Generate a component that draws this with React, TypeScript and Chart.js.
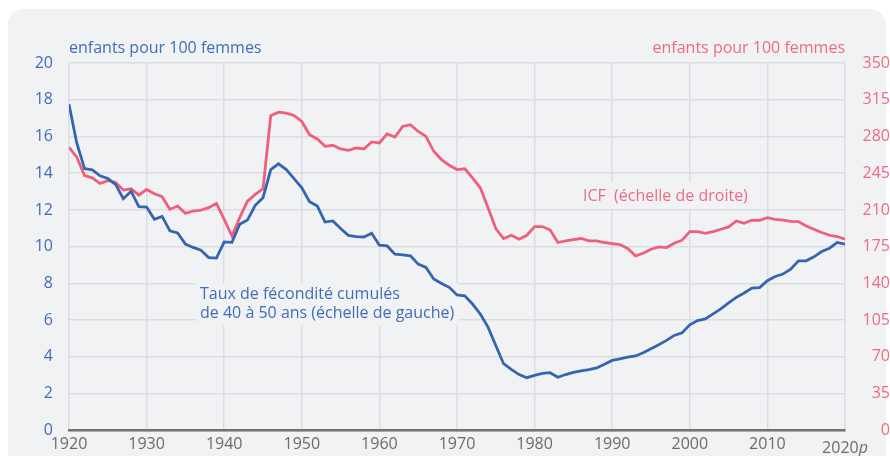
import React, { useEffect, useRef } from "react";
import { Chart, registerables } from "chart.js";

Chart.register(...registerables);

const startYear = 1920;
const xTicks = [1920, 1930, 1940, 1950, 1960, 1970, 1980, 1990, 2000, 2010, 2020];

// Taux de fécondité cumulés de 40 à 50 ans (left scale)
const tauxCumules = [
  17.75, 15.65, 14.25, 14.18, 13.86, 13.71, 13.39, 12.61, 13.02, 12.18,
  12.16, 11.49, 11.65, 10.86, 10.75, 10.14, 9.96, 9.81, 9.41, 9.38,
  10.26, 10.24, 11.22, 11.45, 12.25, 12.67, 14.2, 14.51, 14.2, 13.71,
  13.2, 12.45, 12.21, 11.34, 11.4, 10.99, 10.62, 10.55, 10.53, 10.73,
  10.08, 10.04, 9.59, 9.56, 9.5, 9.05, 8.87, 8.24, 8.0, 7.79,
  7.37, 7.33, 6.88, 6.34, 5.62, 4.62, 3.63, 3.32, 3.04, 2.87,
  3.0, 3.1, 3.14, 2.89, 3.04, 3.16, 3.24, 3.31, 3.4, 3.6,
  3.81, 3.9, 3.99, 4.05, 4.23, 4.44, 4.66, 4.9, 5.17, 5.31,
  5.75, 5.98, 6.07, 6.34, 6.61, 6.94, 7.24, 7.48, 7.75, 7.77,
  8.15, 8.38, 8.51, 8.78, 9.23, 9.23, 9.45, 9.74, 9.92, 10.23,
  10.14,
];

// ICF (right scale)
const icf = [
  269.7, 260.2, 242.8, 240.6, 235.2, 238, 236.2, 228.9, 230.2, 224.1,
  229.5, 225.5, 222.6, 210.6, 213.7, 206.8, 209, 209.9, 212.2, 216.3,
  201.1, 185.2, 202.7, 218.4, 224.8, 230.2, 299.7, 303.2, 302.3, 300,
  294.3, 281.7, 277.6, 270.6, 271.6, 268.1, 266.8, 269.1, 268.1, 274.8,
  273.8, 282.4, 279.5, 289.6, 291.2, 284.8, 280.1, 265.9, 258, 252.6,
  248.5, 249.2, 240.6, 231.1, 212.2, 192.3, 182.8, 185.9, 182.1, 185.9,
  194.2, 194.2, 190.9, 179, 180.5, 181.8, 182.8, 180.5, 180.5, 179,
  178, 177.1, 173.3, 166.3, 168.8, 172.6, 174.8, 174.2, 178.3, 181.2,
  189.4, 189.4, 187.8, 189.4, 191.6, 193.8, 199.5, 197.3, 200.4, 200.1,
  202.7, 201.1, 200.4, 199.2, 198.9, 194.7, 191.6, 188.5, 185.9, 184.7,
  182.1,
];

const leftTitle = "enfants pour 100 femmes";
const rightTitle = "enfants pour 100 femmes";
const icfLabel = "ICF  (échelle de droite)";
const tauxLabel = ["Taux de fécondité cumulés", "de 40 à 50 ans (échelle de gauche)"];

const BLUE_LINE = "#3465b1";
const BLUE_TEXT = "#3f6db8";
const PINK_LINE = "#ef5f7b";
const PINK_TEXT = "#ef6b84";
const CARD = "#f1f2f4";
const GRID = "#dcdde1";
const FONT = "'Open Sans', sans-serif";

const labelsPlugin = {
  id: "labelsPlugin",
  beforeDatasetsDraw(chart: any) {
    const ctx = chart.ctx;
    ctx.save();
    ctx.font = `16px ${FONT}`;
    const wT = Math.max(ctx.measureText(tauxLabel[0]).width, ctx.measureText(tauxLabel[1]).width);
    const wI = ctx.measureText(icfLabel).width;
    ctx.fillStyle = CARD;
    ctx.fillRect(196, 283, wT + 8, 43);
    ctx.fillRect(579, 182, wI + 8, 27);
    ctx.textBaseline = "alphabetic";
    ctx.textAlign = "left";
    ctx.fillStyle = BLUE_TEXT;
    ctx.fillText(tauxLabel[0], 200, 299);
    ctx.fillText(tauxLabel[1], 200, 318);
    ctx.fillStyle = PINK_TEXT;
    ctx.fillText(icfLabel, 583, 200.5);
    ctx.restore();
  },
  afterDraw(chart: any) {
    const ctx = chart.ctx;
    ctx.save();
    ctx.font = `16px ${FONT}`;
    ctx.textBaseline = "alphabetic";
    ctx.textAlign = "left";
    ctx.fillStyle = BLUE_TEXT;
    ctx.fillText(leftTitle, chart.chartArea.left, 52.5);
    ctx.textAlign = "right";
    ctx.fillStyle = PINK_TEXT;
    ctx.fillText(rightTitle, chart.chartArea.right, 52.5);
    // last x tick with italic p
    const xs = chart.scales.x;
    const px = xs.getPixelForValue(2020);
    ctx.font = `16px ${FONT}`;
    const w1 = ctx.measureText("2020").width;
    ctx.font = `italic 16px ${FONT}`;
    const w2 = ctx.measureText("p").width;
    const x0 = px - (w1 + w2) / 2;
    ctx.textAlign = "left";
    ctx.textBaseline = "middle";
    ctx.fillStyle = "#6b6b6b";
    ctx.font = `16px ${FONT}`;
    ctx.fillText("2020", x0, 448.5);
    ctx.font = `italic 16px ${FONT}`;
    ctx.fillText("p", x0 + w1, 448.5);
    ctx.restore();
  },
};

export default function App() {
  const ref = useRef<HTMLCanvasElement>(null);
  useEffect(() => {
    const years = tauxCumules.map((_, i) => startYear + i);
    const chart = new Chart(ref.current as HTMLCanvasElement, {
      type: "line",
      data: {
        datasets: [
          {
            label: "Taux de fécondité cumulés",
            data: years.map((y, i) => ({ x: y, y: tauxCumules[i] })),
            borderColor: BLUE_LINE,
            borderWidth: 2.8,
            pointRadius: 0,
            tension: 0,
            yAxisID: "y",
          },
          {
            label: "ICF",
            data: years.map((y, i) => ({ x: y, y: icf[i] })),
            borderColor: PINK_LINE,
            borderWidth: 2.8,
            pointRadius: 0,
            tension: 0,
            yAxisID: "y1",
          },
        ],
      },
      options: {
        animation: false,
        responsive: false,
        devicePixelRatio: 1,
        layout: { padding: { top: 63, left: 0, right: 0, bottom: 0 } },
        plugins: { legend: { display: false }, tooltip: { enabled: false } },
        scales: {
          x: {
            type: "linear",
            min: 1920,
            max: 2020,
            afterBuildTicks: (s: any) => {
              s.ticks = xTicks.map((v) => ({ value: v }));
            },
            afterFit: (s: any) => {
              s.height = 24;
            },
            ticks: {
              stepSize: 10,
              color: "#6b6b6b",
              font: { family: FONT, size: 16 },
              padding: 4,
              maxRotation: 0,
              callback: (v: any) => (v === 2020 ? "" : String(v)),
            },
            grid: { color: GRID, lineWidth: 1.5, drawTicks: false },
            border: { color: "#737373", width: 2.5 },
          },
          y: {
            position: "left",
            min: 0,
            max: 20,
            afterFit: (s: any) => {
              s.width = 69;
            },
            ticks: {
              stepSize: 2,
              color: BLUE_TEXT,
              font: { family: FONT, size: 16 },
              padding: 16,
            },
            grid: { color: GRID, lineWidth: 1.5, drawTicks: false },
            border: { display: false },
          },
          y1: {
            position: "right",
            min: 0,
            max: 350,
            afterFit: (s: any) => {
              s.width = 45;
            },
            ticks: {
              stepSize: 35,
              color: PINK_TEXT,
              font: { family: FONT, size: 16 },
              padding: 9,
              crossAlign: "far",
            },
            grid: { display: false, drawTicks: false },
            border: { display: false },
          },
        },
      },
      plugins: [labelsPlugin],
    } as any);
    return () => chart.destroy();
  }, []);

  return (
    <div
      style={{
        position: "fixed",
        left: 0,
        top: 0,
        width: 890,
        height: 456,
        background: "#ffffff",
        overflow: "hidden",
      }}
    >
      <div
        style={{
          position: "absolute",
          left: 8,
          top: 9,
          width: 878,
          height: 480,
          borderRadius: 16,
          background: CARD,
        }}
      />
      <canvas
        ref={ref}
        width={890}
        height={456}
        style={{ position: "absolute", left: 0, top: 0, width: 890, height: 456 }}
      />
    </div>
  );
}
